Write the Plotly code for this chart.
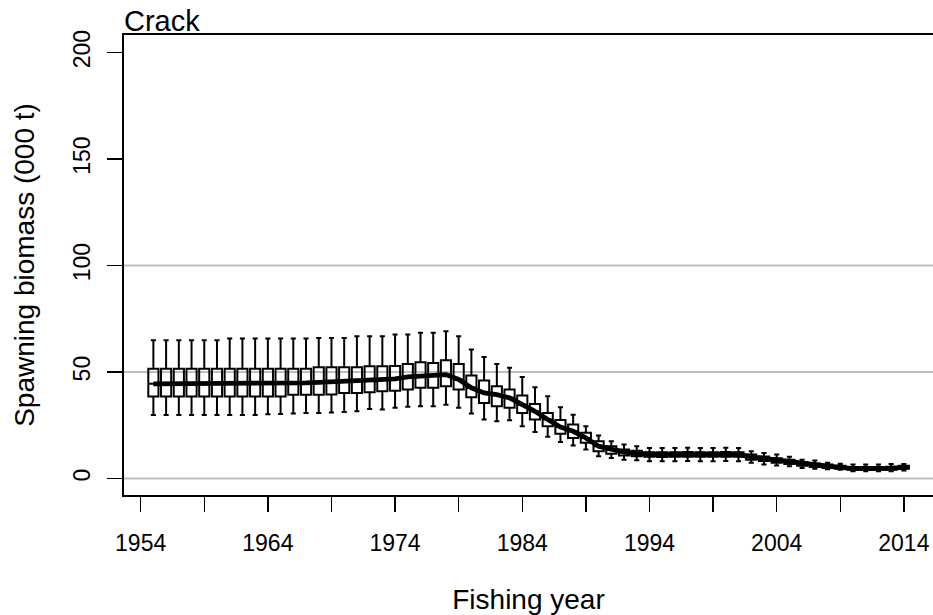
import plotly.graph_objects as go

years = list(range(1955, 2015))

upper = [64.9, 64.9, 64.9, 64.9, 64.9, 64.9, 65.7, 65.7, 65.7, 65.7,
         65.7, 65.8, 65.8, 66.0, 66.0, 66.0, 66.8, 66.8, 66.8, 67.6,
         67.6, 68.4, 68.4, 69.2, 66.8, 60.6, 57.1, 53.8, 52.0, 47.7,
         42.9, 38.6, 33.5, 30.0, 24.6, 20.2, 17.5, 16.0, 15.2, 14.4,
         14.4, 14.4, 14.5, 14.4, 14.4, 14.5, 14.4, 12.8, 12.0, 11.3,
         10.2, 8.9, 8.5, 7.4, 7.0, 6.6, 6.6, 6.6, 6.8, 6.9]
q3 = [51.5, 51.5, 51.5, 51.5, 51.5, 51.5, 51.5, 51.5, 51.5, 51.5,
      51.5, 51.5, 51.5, 52.3, 52.3, 52.3, 52.3, 52.7, 52.7, 52.9,
      53.8, 54.6, 54.2, 55.5, 53.8, 48.4, 46.0, 43.3, 41.8, 39.0,
      35.0, 30.8, 27.5, 25.4, 21.5, 17.5, 15.2, 13.6, 13.1, 12.4,
      12.4, 12.4, 12.5, 12.4, 12.4, 12.5, 12.4, 11.3, 10.4, 9.6,
      8.8, 7.8, 7.1, 6.6, 6.0, 5.4, 5.4, 5.4, 5.6, 6.0]
median = [44.5, 44.5, 44.5, 44.5, 44.5, 44.5, 44.5, 44.5, 44.5, 44.6,
          44.7, 44.8, 44.9, 45.2, 45.4, 45.6, 45.8, 46.3, 46.5, 46.8,
          47.7, 48.2, 48.4, 48.8, 46.5, 42.6, 40.2, 39.4, 37.9, 34.7,
          31.6, 27.7, 24.2, 22.2, 19.1, 15.2, 13.6, 12.4, 11.7, 11.3,
          11.2, 11.3, 11.4, 11.3, 11.3, 11.4, 11.3, 10.2, 9.4, 8.5,
          7.8, 6.9, 6.2, 5.8, 5.3, 4.7, 4.7, 4.7, 4.8, 5.3]
q1 = [38.5, 38.5, 38.5, 38.5, 38.5, 38.5, 38.5, 38.5, 38.5, 38.5,
      38.5, 39.3, 39.3, 39.3, 39.5, 40.2, 40.2, 40.5, 41.0, 41.2,
      41.8, 42.6, 42.6, 43.3, 41.8, 38.2, 35.5, 33.9, 33.2, 30.8,
      27.7, 24.6, 21.1, 19.1, 16.8, 12.8, 11.7, 10.8, 10.5, 10.2,
      10.1, 10.2, 10.3, 10.2, 10.2, 10.3, 10.2, 8.9, 8.3, 7.4,
      6.8, 6.0, 5.4, 5.0, 4.6, 4.1, 4.1, 4.1, 4.2, 4.6]
lower = [29.9, 29.9, 29.9, 29.9, 29.9, 29.9, 29.9, 29.9, 29.9, 30.2,
         30.3, 30.5, 30.8, 30.8, 31.0, 31.3, 31.6, 32.7, 32.4, 33.2,
         33.7, 33.9, 33.9, 34.7, 33.2, 30.5, 27.7, 26.9, 27.4, 24.6,
         21.9, 19.6, 17.2, 15.5, 13.6, 10.5, 9.7, 8.9, 8.6, 8.1,
         8.1, 8.1, 8.2, 8.1, 8.1, 8.2, 8.1, 7.4, 6.6, 6.1,
         5.8, 5.0, 4.6, 4.4, 4.2, 3.4, 3.4, 3.4, 3.5, 3.8]

x_tick_vals = list(range(1954, 2015, 5))
x_tick_text = [str(v) if (v - 1954) % 10 == 0 else "" for v in x_tick_vals]
y_tick_vals = [0, 50, 100, 150, 200]
grid_vals = [0, 50, 100]

FONT = "Liberation Sans, Arial, Helvetica, sans-serif"

fig = go.Figure()

fig.add_trace(go.Box(
    x=years, q1=q1, median=median, q3=q3,
    lowerfence=lower, upperfence=upper,
    width=0.8, whiskerwidth=0.5,
    line=dict(color="black", width=2),
    fillcolor="rgba(255,255,255,0)",
    boxpoints=False, showlegend=False, hoverinfo="skip",
))

fig.add_trace(go.Scatter(
    x=years, y=median, mode="lines",
    line=dict(color="red", width=2),
    showlegend=False, hoverinfo="skip",
))
fig.add_trace(go.Scatter(
    x=years, y=median, mode="lines",
    line=dict(color="black", width=4.8),
    showlegend=False, hoverinfo="skip",
))

for g in grid_vals:
    fig.add_shape(type="line", xref="paper", x0=0, x1=1, yref="y", y0=g, y1=g,
                  line=dict(color="#BEBEBE", width=2), layer="below")

fig.add_annotation(text="Crack", xref="paper", yref="paper", x=0, y=1,
                   xanchor="left", yanchor="bottom", showarrow=False,
                   font=dict(family=FONT, size=29, color="black"),
                   xshift=-2, yshift=-4)

fig.update_layout(
    width=933, height=615,
    margin=dict(l=124, r=0, t=35, b=120, autoexpand=False),
    paper_bgcolor="white", plot_bgcolor="white",
    font=dict(family=FONT, size=23, color="black"),
    hovermode=False,
    xaxis=dict(
        range=[1952.69, 2016.29], tickmode="array",
        tickvals=x_tick_vals, ticktext=x_tick_text,
        ticks="outside", ticklen=15, tickwidth=1.5, tickcolor="black",
        showline=True, linecolor="black", linewidth=2, mirror=True,
        showgrid=False, zeroline=False,
        title=dict(text="Fishing year", standoff=37),
        ticklabelstandoff=11,
    ),
    yaxis=dict(
        range=[-7.7, 208.2], tickmode="array", tickvals=y_tick_vals,
        tickangle=-90,
        ticks="outside", ticklen=15, tickwidth=1.5, tickcolor="black",
        showline=True, linecolor="black", linewidth=2, mirror=False,
        showgrid=False, zeroline=False,
        title=dict(text="Spawning biomass (000 t)", standoff=26),
        ticklabelstandoff=8,
    ),
)

fig.write_html("out.html",
               config={"displayModeBar": False, "staticPlot": True},
               post_script="document.body.style.margin='0px';"
                           "document.body.style.overflow='hidden';")
